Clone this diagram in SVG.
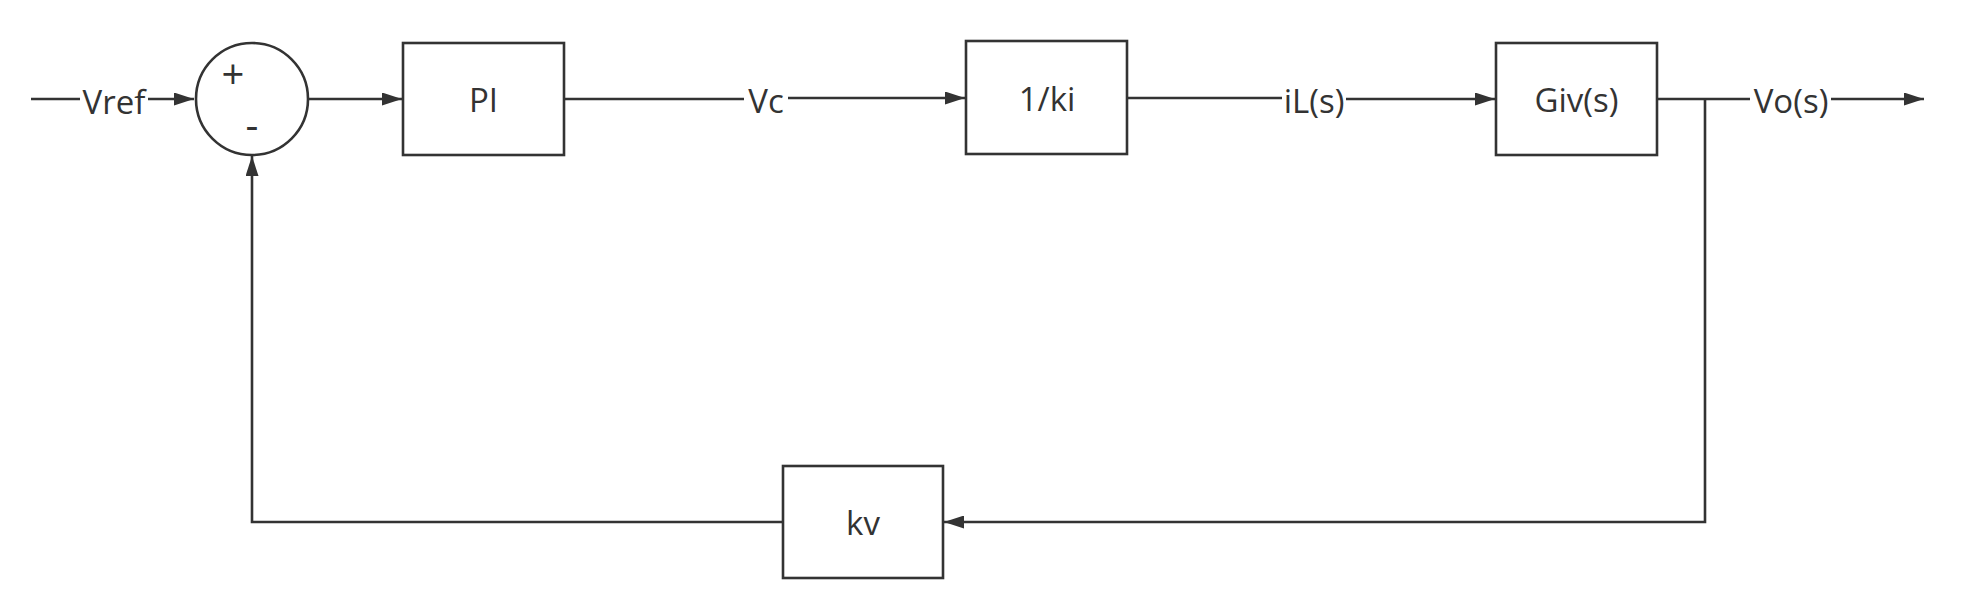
<svg xmlns="http://www.w3.org/2000/svg" width="1981" height="611" viewBox="0 0 1981 611">
<style>
.box{fill:#fff;stroke:#333;stroke-width:2.6}
.ln{fill:none;stroke:#333;stroke-width:2.6}
.t{font-family:"Open Sans","Noto Sans","Liberation Sans",sans-serif;font-size:33px;fill:#333;text-anchor:middle}
.sg{font-family:"Open Sans","Noto Sans","Liberation Sans",sans-serif;font-size:40px;fill:#333;text-anchor:middle}
</style>
<defs>
<marker id="ah" viewBox="0 0 20 13" refX="20" refY="6.5" markerWidth="20" markerHeight="13" markerUnits="userSpaceOnUse" orient="auto">
<path d="M0,0 L20,6.5 L0,13 Z" fill="#333"/>
</marker>
</defs>
<rect width="1981" height="611" fill="#fff"/>
<g id="connectors">
<line class="ln" x1="31" y1="99" x2="80" y2="99"/>
<line class="ln" x1="148" y1="99" x2="194" y2="99" marker-end="url(#ah)"/>
<line class="ln" x1="309" y1="99" x2="402" y2="99" marker-end="url(#ah)"/>
<line class="ln" x1="565" y1="99" x2="744" y2="99"/>
<line class="ln" x1="788" y1="98" x2="965" y2="98" marker-end="url(#ah)"/>
<line class="ln" x1="1128" y1="98" x2="1282" y2="98"/>
<line class="ln" x1="1346" y1="99" x2="1495" y2="99" marker-end="url(#ah)"/>
<line class="ln" x1="1658" y1="99" x2="1750" y2="99"/>
<line class="ln" x1="1831" y1="99" x2="1924" y2="99" marker-end="url(#ah)"/>
<polyline class="ln" points="1705,99 1705,522 944,522" marker-end="url(#ah)"/>
<polyline class="ln" points="783,522 252,522 252,156" marker-end="url(#ah)"/>
<text class="t" x="114" y="114">Vref</text>
<text class="t" x="766" y="113">Vc</text>
<text class="t" x="1314" y="113">iL(s)</text>
<text class="t" x="1791" y="113">Vo(s)</text>
</g>
<g id="sum">
<circle class="box" cx="252" cy="99" r="56"/>
<text class="sg" x="233" y="89">+</text>
<text class="sg" x="252" y="139">-</text>
</g>
<g id="pi">
<rect class="box" x="403" y="43" width="161" height="112"/>
<text class="t" x="483.5" y="112">PI</text>
</g>
<g id="ki">
<rect class="box" x="966" y="41" width="161" height="113"/>
<text class="t" x="1047" y="111">1/ki</text>
</g>
<g id="giv">
<rect class="box" x="1496" y="43" width="161" height="112"/>
<text class="t" x="1576.5" y="112">Giv(s)</text>
</g>
<g id="kv">
<rect class="box" x="783" y="466" width="160" height="112"/>
<text class="t" x="863" y="535">kv</text>
</g>
</svg>
